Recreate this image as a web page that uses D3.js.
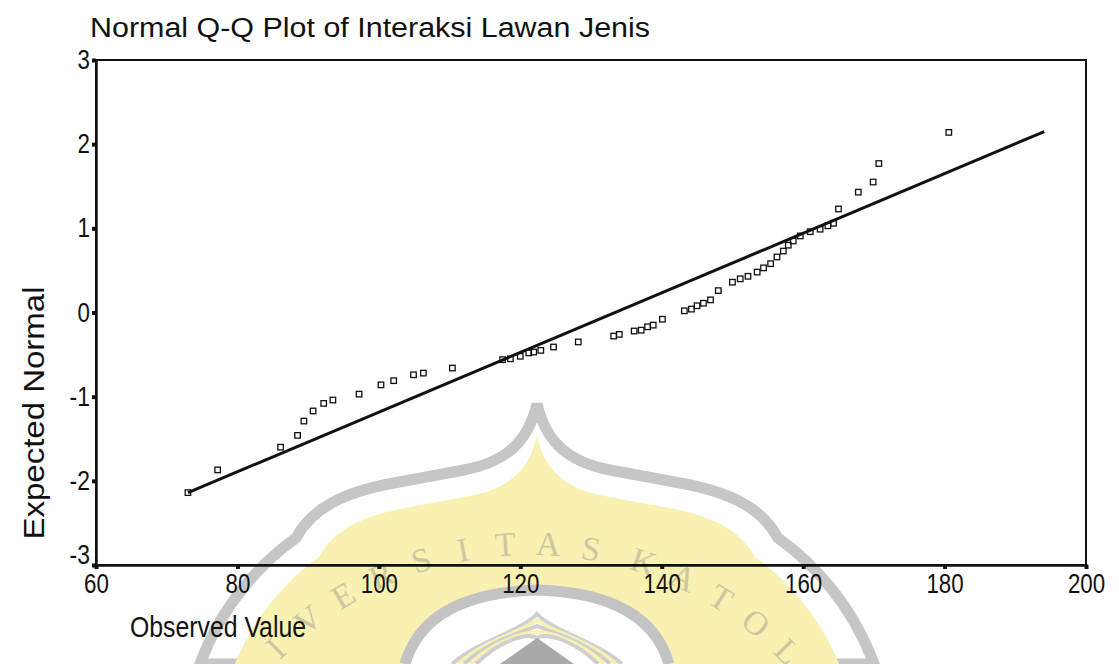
<!DOCTYPE html>
<html>
<head>
<meta charset="utf-8">
<script src="https://cdn.jsdelivr.net/npm/d3@7"></script>
<style>
  html, body { margin: 0; padding: 0; background: #ffffff; }
  svg { display: block; }
  text { font-family: "Liberation Sans", Arial, sans-serif; fill: #111; }
</style>
</head>
<body>
<svg id="chart" width="1119" height="664"></svg>
<script>
// ---------------- DATA ----------------
const chartTitle = "Normal Q-Q Plot of Interaksi Lawan Jenis";
const xAxisTitle = "Observed Value";
const yAxisTitle = "Expected Normal";
const watermarkText = "UNIVERSITAS KATOLIK";
const xTicks = [60, 80, 100, 120, 140, 160, 180, 200];
const yTicks = [-3, -2, -1, 0, 1, 2, 3];
const xDomain = [60, 200];
const yDomain = [-3, 3];

// observed values (x) and expected normal values (y) of the points
const observedValues = [
  73.0, 77.2, 86.1, 88.5, 89.4, 90.7, 92.2, 93.5, 97.2, 100.3,
  102.1, 104.9, 106.3, 110.4, 117.5, 118.6, 120.0, 121.2, 121.9, 122.9,
  124.7, 128.2, 133.2, 134.0, 136.1, 137.1, 138.0, 138.8, 140.1, 143.2,
  144.2, 145.0, 145.9, 146.9, 148.0, 150.0, 151.1, 152.2, 153.5, 154.4,
  155.4, 156.3, 157.2, 157.9, 158.6, 159.6, 161.0, 162.4, 163.5, 164.3,
  165.0, 167.8, 169.9, 170.7, 180.6
];
const expectedNormal = [
  -2.14, -1.87, -1.60, -1.46, -1.29, -1.17, -1.08, -1.04, -0.97, -0.86,
  -0.81, -0.74, -0.72, -0.66, -0.56, -0.55, -0.52, -0.48, -0.47, -0.45,
  -0.41, -0.35, -0.28, -0.26, -0.22, -0.21, -0.17, -0.15, -0.08, 0.02,
  0.04, 0.08, 0.11, 0.15, 0.26, 0.36, 0.40, 0.43, 0.48, 0.53,
  0.58, 0.66, 0.73, 0.80, 0.85, 0.91, 0.96, 0.99, 1.03, 1.06,
  1.23, 1.43, 1.55, 1.77, 2.14
];
// reference line end points
const lineObserved = [73.0, 194.1];
const lineExpected = [-2.14, 2.15];

// ---------------- LAYOUT ----------------
const svg = d3.select("#chart");
const plot = { left: 96, right: 1086, top: 60, bottom: 565 };

const x = d3.scaleLinear().domain(xDomain).range([plot.left, plot.right]);
const y = d3.scaleLinear().domain(yDomain).range([plot.bottom, plot.top]);
const fmt = d => (d < 0 ? "-" + Math.abs(d) : String(d));

// ---------------- WATERMARK (decorative background) ----------------
const wm = svg.append("g").attr("class", "watermark");
const domePath = "M537,404 C546,442 568,462 610,470 L680,483 C730,492 762,508 778,538 C812,562 852,604 874,664 " +
                 "L200,664 C222,604 262,562 296,538 C312,508 344,492 394,483 L464,470 C506,462 528,442 537,404 Z";
wm.append("path").attr("d", domePath)
  .attr("fill", "#ffffff").attr("stroke", "#c6c6c6").attr("stroke-width", 11);
wm.append("path").attr("d", domePath)
  .attr("transform", "translate(537,664) scale(0.905) translate(-537,-664) translate(0,8)")
  .attr("fill", "#f8f1b2");
// inner grey arc ring
wm.append("path").attr("d", "M405,664 C420,612 470,592 537,590 C604,592 654,612 669,664")
  .attr("fill", "#ffffff").attr("stroke", "#c3c3c3").attr("stroke-width", 11);
// striped pointed arch
[0, 1, 2, 3, 4].forEach(i => {
  wm.append("path")
    .attr("d", `M${452 + i * 6},664 C${480 + i * 5},640 ${520 + i * 2},632 537,${614 + i * 6} C${554 - i * 2},632 ${594 - i * 5},640 ${622 - i * 6},664`)
    .attr("fill", "none").attr("stroke", i % 2 ? "#f8f1b2" : "#cfcfcf").attr("stroke-width", 4);
});
wm.append("path").attr("d", "M537,638 L500,664 L574,664 Z").attr("fill", "#a9a9a9");
// letters on an arc
const arcC = { cx: 530, cy: 905, r: 350 };
const letterStep = 6.8, letterA = 2.9, idxA = 9;
watermarkText.split("").forEach((ch, i) => {
  if (ch === " ") return;
  const a = letterA + (i - idxA) * letterStep + (i > 11 ? -5 : 0);
  const rad = a * Math.PI / 180;
  const px = arcC.cx + arcC.r * Math.sin(rad);
  const py = arcC.cy - arcC.r * Math.cos(rad);
  if (py > 668) return;
  wm.append("text")
    .attr("transform", `translate(${px},${py}) rotate(${a})`)
    .attr("text-anchor", "middle")
    .style("font-family", "'Liberation Serif', 'DejaVu Serif', serif")
    .style("font-size", "34px").style("fill", "#cdc7a0")
    .text(ch);
});

// ---------------- TITLE ----------------
svg.append("text")
  .attr("x", 90).attr("y", 37)
  .attr("textLength", 560).attr("lengthAdjust", "spacingAndGlyphs")
  .style("font-size", "27px")
  .text(chartTitle);

// ---------------- FRAME ----------------
svg.append("rect")
  .attr("x", plot.left).attr("y", plot.top)
  .attr("width", plot.right - plot.left).attr("height", plot.bottom - plot.top)
  .attr("fill", "none").attr("stroke", "#111").attr("stroke-width", 2);

// ---------------- AXES ----------------
const xAxis = d3.axisBottom(x).tickValues(xTicks).tickSize(4).tickPadding(5).tickFormat(fmt);
const gx = svg.append("g").attr("transform", `translate(0,${plot.bottom})`).call(xAxis);
gx.select(".domain").attr("stroke", "#111").attr("stroke-width", 2.5);
gx.selectAll(".tick line").attr("stroke", "#111").attr("stroke-width", 4);
gx.selectAll(".tick text").style("font-family", "'Liberation Sans', Arial, sans-serif")
  .style("font-size", "27px").attr("fill", "#111")
  .attr("textLength", d => fmt(d).length * 12.4).attr("lengthAdjust", "spacingAndGlyphs");

const yAxis = d3.axisLeft(y).tickValues(yTicks).tickSize(4).tickPadding(2).tickFormat(fmt);
const gy = svg.append("g").attr("transform", `translate(${plot.left},0)`).call(yAxis);
gy.select(".domain").attr("stroke", "#111").attr("stroke-width", 2.5);
gy.selectAll(".tick line").attr("stroke", "#111").attr("stroke-width", 4);
gy.selectAll(".tick text").style("font-family", "'Liberation Sans', Arial, sans-serif")
  .style("font-size", "27px").attr("fill", "#111")
  .attr("textLength", d => (d < 0 ? 8 : 0) + 12.4).attr("lengthAdjust", "spacingAndGlyphs")
  .attr("dy", d => (d === yDomain[0] ? "-0.05em" : "0.32em"));

// ---------------- AXIS TITLES ----------------
svg.append("text")
  .attr("transform", `translate(44,${413}) rotate(-90)`)
  .attr("text-anchor", "middle")
  .attr("textLength", 253).attr("lengthAdjust", "spacingAndGlyphs")
  .style("font-size", "29px")
  .text(yAxisTitle);

svg.append("text")
  .attr("x", 130).attr("y", 637)
  .attr("textLength", 176).attr("lengthAdjust", "spacingAndGlyphs")
  .style("font-size", "29px")
  .text(xAxisTitle);

// ---------------- REFERENCE LINE ----------------
const lineData = lineObserved.map((v, i) => [v, lineExpected[i]]);
svg.append("path")
  .datum(lineData)
  .attr("fill", "none").attr("stroke", "#111").attr("stroke-width", 3)
  .attr("d", d3.line().x(d => x(d[0])).y(d => y(d[1])));

// ---------------- POINTS ----------------
const pts = observedValues.map((v, i) => ({ obs: v, exp: expectedNormal[i] }));
const s = 5.5;
svg.append("g").selectAll("rect").data(pts).join("rect")
  .attr("x", d => x(d.obs) - s / 2).attr("y", d => y(d.exp) - s / 2)
  .attr("width", s).attr("height", s)
  .attr("fill", "none").attr("stroke", "#111").attr("stroke-width", 1.3);
</script>
</body>
</html>
